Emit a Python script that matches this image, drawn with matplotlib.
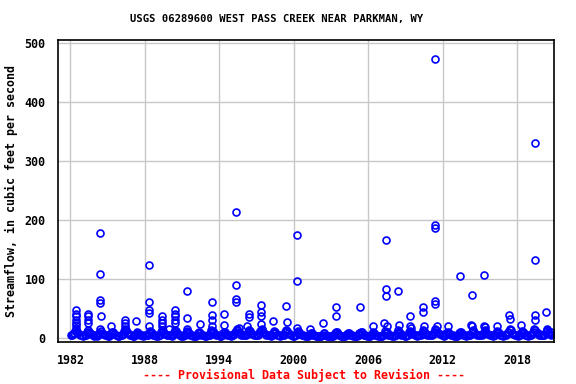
import matplotlib
matplotlib.use('Agg')
import matplotlib.pyplot as plt

# higher field measurements (decimal year, cfs)
peak_dates = [1982.45, 1982.45, 1982.46, 1982.46, 1982.47, 1982.47, 1982.48,
              1983.40, 1983.40, 1983.41, 1983.41,
              1984.39, 1984.39, 1984.39, 1984.40, 1984.47,
              1985.27, 1986.40, 1986.40, 1986.41, 1987.30,
              1988.34, 1988.34, 1988.35, 1988.35, 1988.36,
              1989.39, 1989.39, 1989.40, 1989.40, 1989.98,
              1990.44, 1990.44, 1990.45, 1990.45, 1990.46,
              1991.40, 1991.40, 1991.42, 1992.45,
              1993.42, 1993.42, 1993.43, 1993.44, 1994.39, 1994.40,
              1995.35, 1995.35, 1995.36, 1995.36, 1995.60,
              1996.24, 1996.40, 1996.41,
              1997.37, 1997.37, 1997.38, 1997.39, 1998.34,
              1999.39, 1999.47, 2000.27, 2000.27, 2000.30,
              2001.32, 2002.37, 2003.37, 2003.38, 2005.35, 2006.40,
              2007.29, 2007.45, 2007.45, 2007.44, 2007.50,
              2008.42, 2008.50, 2009.39, 2009.40, 2009.43,
              2010.43, 2010.42, 2010.50,
              2011.40, 2011.40, 2011.40, 2011.40, 2011.41, 2011.56,
              2012.45, 2013.42, 2014.39, 2014.30, 2014.40,
              2015.35, 2015.35, 2015.40, 2016.40,
              2017.37, 2017.45, 2017.47, 2018.34,
              2019.42, 2019.42, 2019.42, 2019.44,
              2020.35, 2020.40, 2020.70]
peak_flows = [47, 41, 37, 31, 25, 22, 17,
              41, 37, 31, 25,
              178, 108, 64, 59, 38,
              21, 31, 25, 20, 29,
              124, 61, 47, 43, 20,
              37, 31, 25, 20, 15,
              47, 41, 37, 31, 25,
              80, 34, 16, 24,
              61, 39, 31, 20, 41, 22,
              213, 90, 67, 61, 18,
              20, 41, 36,
              56, 45, 38, 24, 29,
              55, 28, 175, 97, 17,
              15, 25, 53, 38, 52, 20,
              26, 166, 83, 71, 21,
              80, 23, 38, 20, 17,
              52, 45, 21,
              473, 192, 187, 63, 58, 21,
              20, 105, 73, 23, 20,
              107, 21, 19, 20,
              39, 32, 16, 23,
              330, 132, 39, 31,
              44, 15, 10]

# routine low-flow measurements
low_dates = [
    1982.02, 1982.10, 1982.20, 1982.30, 1982.38, 1982.44, 1982.52, 1982.62, 1982.75, 1982.90,
    1983.05, 1983.15, 1983.24, 1983.33, 1983.42, 1983.47, 1983.55, 1983.66, 1983.80, 1983.93,
    1984.04, 1984.13, 1984.22, 1984.31, 1984.36, 1984.44, 1984.53, 1984.64, 1984.78, 1984.92,
    1985.03, 1985.14, 1985.21, 1985.30, 1985.37, 1985.45, 1985.54, 1985.67, 1985.81, 1985.94,
    1986.06, 1986.15, 1986.25, 1986.32, 1986.38, 1986.46, 1986.56, 1986.68, 1986.79, 1986.91,
    1987.02, 1987.12, 1987.23, 1987.31, 1987.39, 1987.45, 1987.53, 1987.63, 1987.77, 1987.89,
    1988.05, 1988.14, 1988.24, 1988.30, 1988.39, 1988.46, 1988.55, 1988.65, 1988.80, 1988.92,
    1989.03, 1989.13, 1989.21, 1989.32, 1989.37, 1989.45, 1989.52, 1989.63, 1989.76, 1989.90,
    1990.04, 1990.16, 1990.23, 1990.33, 1990.40, 1990.48, 1990.57, 1990.66, 1990.80, 1990.93,
    1991.06, 1991.14, 1991.22, 1991.31, 1991.38, 1991.46, 1991.54, 1991.64, 1991.78, 1991.91,
    1992.03, 1992.12, 1992.24, 1992.32, 1992.40, 1992.48, 1992.56, 1992.67, 1992.81, 1992.94,
    1993.05, 1993.15, 1993.22, 1993.30, 1993.37, 1993.47, 1993.53, 1993.64, 1993.77, 1993.90,
    1994.02, 1994.13, 1994.24, 1994.32, 1994.36, 1994.45, 1994.55, 1994.66, 1994.79, 1994.92,
    1995.04, 1995.14, 1995.22, 1995.30, 1995.40, 1995.46, 1995.54, 1995.65, 1995.78, 1995.91,
    1996.06, 1996.15, 1996.21, 1996.32, 1996.37, 1996.46, 1996.56, 1996.67, 1996.80, 1996.93,
    1997.03, 1997.12, 1997.23, 1997.31, 1997.42, 1997.47, 1997.54, 1997.64, 1997.77, 1997.90,
    1998.05, 1998.14, 1998.24, 1998.30, 1998.39, 1998.45, 1998.53, 1998.65, 1998.79, 1998.92,
    1999.02, 1999.13, 1999.22, 1999.32, 1999.36, 1999.44, 1999.55, 1999.66, 1999.80, 1999.93,
    2000.04, 2000.12, 2000.21, 2000.33, 2000.38, 2000.46, 2000.54, 2000.63, 2000.77, 2000.90,
    2001.05, 2001.15, 2001.24, 2001.30, 2001.38, 2001.45, 2001.53, 2001.64, 2001.78, 2001.91,
    2002.03, 2002.14, 2002.22, 2002.31, 2002.40, 2002.47, 2002.56, 2002.67, 2002.81, 2002.94,
    2003.06, 2003.13, 2003.23, 2003.31, 2003.42, 2003.46, 2003.54, 2003.65, 2003.79, 2003.92,
    2004.02, 2004.14, 2004.22, 2004.32, 2004.38, 2004.45, 2004.55, 2004.66, 2004.80, 2004.93,
    2005.04, 2005.12, 2005.24, 2005.30, 2005.40, 2005.47, 2005.53, 2005.64, 2005.77, 2005.90,
    2006.05, 2006.15, 2006.21, 2006.32, 2006.36, 2006.45, 2006.56, 2006.67, 2006.81, 2006.92,
    2007.03, 2007.13, 2007.22, 2007.33, 2007.39, 2007.48, 2007.54, 2007.63, 2007.78, 2007.91,
    2008.06, 2008.14, 2008.23, 2008.31, 2008.38, 2008.46, 2008.55, 2008.66, 2008.79, 2008.93,
    2009.02, 2009.12, 2009.24, 2009.30, 2009.36, 2009.47, 2009.53, 2009.64, 2009.80, 2009.90,
    2010.05, 2010.13, 2010.22, 2010.32, 2010.39, 2010.46, 2010.56, 2010.67, 2010.78, 2010.92,
    2011.04, 2011.15, 2011.23, 2011.31, 2011.37, 2011.45, 2011.53, 2011.65, 2011.79, 2011.93,
    2012.03, 2012.14, 2012.21, 2012.30, 2012.40, 2012.48, 2012.55, 2012.66, 2012.80, 2012.91,
    2013.06, 2013.12, 2013.24, 2013.33, 2013.38, 2013.46, 2013.54, 2013.64, 2013.77, 2013.90,
    2014.02, 2014.13, 2014.22, 2014.34, 2014.43, 2014.47, 2014.56, 2014.67, 2014.81, 2014.94,
    2015.05, 2015.14, 2015.23, 2015.30, 2015.39, 2015.45, 2015.53, 2015.65, 2015.79, 2015.92,
    2016.04, 2016.15, 2016.22, 2016.31, 2016.36, 2016.46, 2016.55, 2016.66, 2016.78, 2016.90,
    2017.03, 2017.12, 2017.21, 2017.30, 2017.40, 2017.49, 2017.56, 2017.67, 2017.80, 2017.93,
    2018.06, 2018.14, 2018.24, 2018.30, 2018.38, 2018.45, 2018.54, 2018.64, 2018.77, 2018.91,
    2019.02, 2019.13, 2019.23, 2019.32, 2019.37, 2019.47, 2019.55, 2019.66, 2019.80, 2019.93,
    2020.04, 2020.12, 2020.21, 2020.30, 2020.38, 2020.45, 2020.52, 2020.60, 2020.66, 2020.74,
]
low_flows = [
    6, 5, 7, 9, 12, 14, 10, 8, 6, 5,
    4, 5, 6, 10, 13, 11, 8, 7, 5, 4,
    5, 4, 6, 9, 15, 12, 9, 7, 6, 5,
    3, 4, 5, 8, 11, 10, 7, 5, 4, 3,
    5, 6, 7, 12, 15, 13, 9, 8, 6, 5,
    4, 4, 5, 7, 10, 9, 7, 6, 5, 4,
    5, 5, 6, 9, 12, 11, 8, 6, 5, 4,
    4, 5, 6, 10, 14, 12, 9, 7, 5, 5,
    5, 4, 7, 11, 13, 12, 9, 7, 6, 4,
    4, 5, 6, 9, 12, 10, 8, 6, 5, 4,
    3, 4, 5, 8, 10, 9, 6, 5, 4, 3,
    5, 5, 6, 10, 14, 12, 9, 7, 6, 5,
    4, 4, 6, 8, 11, 10, 7, 6, 5, 4,
    5, 5, 7, 11, 15, 13, 10, 8, 6, 5,
    5, 6, 7, 10, 14, 12, 9, 7, 6, 5,
    6, 5, 8, 12, 15, 13, 10, 8, 6, 5,
    5, 4, 6, 9, 12, 11, 8, 6, 5, 4,
    5, 5, 6, 10, 13, 12, 9, 7, 5, 4,
    4, 5, 6, 9, 12, 10, 7, 6, 5, 4,
    3, 4, 5, 7, 9, 8, 6, 5, 4, 3,
    3, 3, 4, 6, 9, 8, 5, 4, 4, 3,
    4, 4, 5, 8, 11, 10, 7, 5, 4, 3,
    3, 4, 5, 7, 9, 8, 6, 5, 4, 3,
    4, 4, 5, 8, 11, 10, 7, 6, 5, 4,
    3, 4, 5, 7, 10, 9, 6, 5, 4, 3,
    4, 4, 6, 9, 12, 11, 8, 6, 5, 4,
    4, 5, 6, 9, 13, 11, 8, 6, 5, 4,
    4, 5, 6, 10, 12, 11, 8, 7, 5, 4,
    5, 5, 6, 9, 13, 12, 9, 7, 6, 5,
    5, 6, 7, 11, 15, 13, 10, 8, 7, 6,
    5, 4, 6, 8, 10, 9, 7, 6, 5, 4,
    4, 4, 5, 8, 11, 10, 7, 6, 5, 4,
    5, 5, 6, 10, 13, 12, 9, 7, 6, 5,
    5, 5, 7, 10, 14, 12, 9, 7, 6, 5,
    4, 5, 6, 9, 12, 11, 8, 6, 5, 4,
    5, 5, 7, 11, 14, 13, 9, 7, 6, 5,
    4, 5, 6, 9, 12, 10, 8, 6, 5, 4,
    5, 6, 7, 11, 15, 13, 10, 8, 6, 5,
    5, 5, 6, 10, 13, 12, 9, 8, 7, 6,
]

x_ticks = [1982, 1988, 1994, 2000, 2006, 2012, 2018]
y_ticks = [0, 100, 200, 300, 400, 500]

mono = 'DejaVu Sans Mono'

fig = plt.figure(figsize=(5.76, 3.84), dpi=100)
ax = fig.add_axes([0.1007, 0.1102, 0.8616, 0.7869])

ax.plot(low_dates, low_flows, 'o', ms=5, mfc='none', mec='#0000ff', mew=1.2)
ax.plot(peak_dates, peak_flows, 'o', ms=5, mfc='none', mec='#0000ff', mew=1.2)

ax.set_xlim(1981.0, 2021.0)
ax.set_ylim(-6, 506)
ax.set_xticks(x_ticks)
ax.set_yticks(y_ticks)
ax.grid(True, color='#c8c8c8', lw=1)
ax.set_axisbelow(True)
ax.tick_params(length=0, pad=9, labelsize=8.4)
for lab in ax.get_xticklabels() + ax.get_yticklabels():
    lab.set_fontfamily(mono)
    lab.set_fontweight('bold')
for sp in ax.spines.values():
    sp.set_linewidth(1.2)

ax.set_ylabel('Streamflow, in cubic feet per second', fontfamily=mono,
              fontweight='bold', fontsize=8.4, va='center')
ax.yaxis.set_label_coords(-0.093, 0.5)
fig.text(0.481, 0.95, 'USGS 06289600 WEST PASS CREEK NEAR PARKMAN, WY',
         ha='center', va='center', fontfamily=mono, fontweight='bold', fontsize=7.6)
fig.text(0.528, 0.023, '---- Provisional Data Subject to Revision ----',
         ha='center', va='center', fontfamily=mono, fontweight='bold',
         fontsize=8.4, color='red')

fig.savefig('out.png', dpi=100)
